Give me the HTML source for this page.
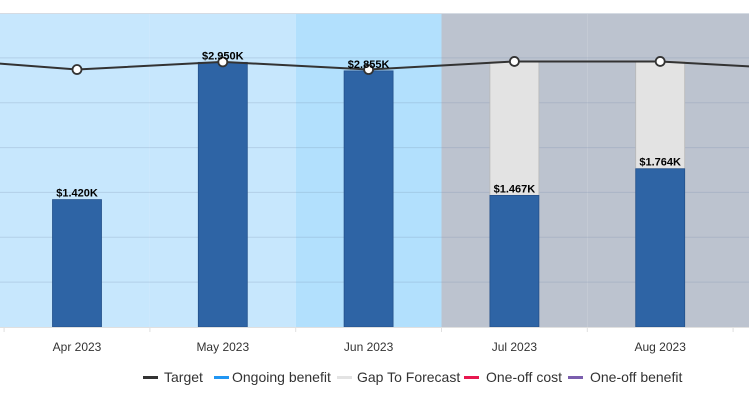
<!DOCTYPE html>
<html><head><meta charset="utf-8"><style>
html,body{margin:0;padding:0;background:#fff;width:749px;height:404px;overflow:hidden}
svg{display:block;font-family:"Liberation Sans",Arial,sans-serif}
</style></head><body>
<svg id="chart" width="749" height="404" viewBox="0 0 749 404" xmlns="http://www.w3.org/2000/svg"></svg>
<script>
const categories = ["Apr 2023","May 2023","Jun 2023","Jul 2023","Aug 2023"];
const ongoingBenefit = [1420,2950,2855,1467,1764];
const gapToForecast = [0,0,0,1493,1196];
const barLabels = ["$1.420K","$2.950K","$2.855K","$1.467K","$1.764K"];
const targetValues = [2870,2955,2870,2960,2960];
const targetPrev = 2995;
const targetNext = 2870;
const yTicks = [0,500,1000,1500,2000,2500,3000,3500];

const NS="http://www.w3.org/2000/svg";
const svg=document.getElementById('chart');
const plotTop=13, plotBottom=327, yMax=3500;
const step=145.8, x0=77;
function x(i){return x0+step*i;}
function y(v){return plotBottom-(v/yMax)*(plotBottom-plotTop);}
function mk(tag,attrs,parent){const e=document.createElementNS(NS,tag);for(const k in attrs)e.setAttribute(k,attrs[k]);(parent||svg).appendChild(e);return e;}

// background bands
const bandColors=["#c7e7fd","#c7e7fd","#b2e0fd","#bcc3cf","#bcc3cf"];
categories.forEach((c,i)=>{
  const l=i===0?0:x(i)-step/2, r=i===categories.length-1?749:x(i)+step/2;
  const b=mk('rect',{x:l,y:plotTop,width:r-l,height:plotBottom-plotTop,fill:bandColors[i]});
  
  
});
mk('line',{x1:0,x2:749,y1:plotTop+0.5,y2:plotTop+0.5,stroke:'#d5dbe3'});
// gridlines
yTicks.forEach(v=>{
  if(v===0||v===yMax)return;
  const g=mk('line',{x1:0,x2:749,y1:y(v),y2:y(v),stroke:'rgba(120,140,170,0.25)','stroke-width':1});
  
  
});
// bars
categories.forEach((c,i)=>{
  const w=49, bx=x(i)-w/2;
  const yb=y(ongoingBenefit[i]);
  if(gapToForecast[i]>0){
    const yg=y(ongoingBenefit[i]+gapToForecast[i]);
    const g=mk('rect',{x:bx,y:yg,width:w,height:yb-yg,fill:'#e3e3e3',stroke:'#b8b8b8','stroke-width':0.8});
    
    
  }
  const b=mk('rect',{x:bx,y:yb,width:w,height:plotBottom-yb,fill:'#2e64a5',stroke:'#24508a','stroke-width':0.8});
  
  
});
// axis
mk('line',{x1:0,x2:749,y1:plotBottom+0.5,y2:plotBottom+0.5,stroke:'#e0e0e0'});
for(let i=0;i<=categories.length;i++){
  const tx=x(i)-step/2;
  mk('line',{x1:tx,x2:tx,y1:plotBottom,y2:plotBottom+5,stroke:'#e0e0e0'});
}
categories.forEach((c,i)=>{
  const t=mk('text',{x:x(i),y:351,'text-anchor':'middle','font-size':12,fill:'#333'});
  t.textContent=c;
  
  
});
// target line
const pts=[[x(-1),y(targetPrev)]].concat(targetValues.map((v,i)=>[x(i),y(v)])).concat([[x(categories.length),y(targetNext)]]);
const tl=mk('polyline',{points:pts.map(p=>p.join(',')).join(' '),fill:'none',stroke:'#333','stroke-width':2});


targetValues.forEach((v,i)=>{
  const c=mk('circle',{cx:x(i),cy:y(v),r:4.5,fill:'#fff',stroke:'#333','stroke-width':1.8});
  
  
});
// value labels
categories.forEach((c,i)=>{
  const t=mk('text',{x:x(i),y:y(ongoingBenefit[i])-3,'text-anchor':'middle','font-size':11,'font-weight':'bold',fill:'#000'});
  t.textContent=barLabels[i];
  
  
});
// legend
const legend=[["Target","#333",143,164],["Ongoing benefit","#2196f3",214,232],["Gap To Forecast","#e3e3e3",337,357],["One-off cost","#e8174f",464,486],["One-off benefit","#7b5eae",568,590]];
legend.forEach(l=>{
  const g=mk('g',{});
  
  
  mk('rect',{x:l[2],y:376,width:15,height:3,fill:l[1]},g);
  const t=mk('text',{x:l[3],y:382,'font-size':14,fill:'#333'},g);
  t.textContent=l[0];
});
</script>
</body></html>
